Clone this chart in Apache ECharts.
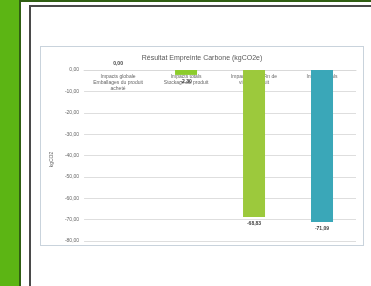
<!DOCTYPE html>
<html>
<head>
<meta charset="utf-8">
<script src="https://cdn.jsdelivr.net/npm/echarts@6/dist/echarts.min.js"></script>
<style>
  html, body { margin: 0; padding: 0; width: 371px; height: 286px; overflow: hidden; background: #fff; }
  .strip { position: absolute; left: 0; top: 0; width: 19px; height: 286px; background: #5cb514; }
  .stripEdge { position: absolute; left: 19px; top: 0; width: 2px; height: 286px; background: #2f5e12; }
  .topLine { position: absolute; left: 19px; top: 0; width: 352px; height: 2px; background: #2f5e12; }
  .box { position: absolute; left: 29px; top: 5px; width: 360px; height: 300px; border: 2px solid #4a4a4a; }
  #chart { position: absolute; left: 40px; top: 46px; width: 322px; height: 198px; border: 1px solid #c9d3dc; background: #fff; }
</style>
</head>
<body>
<div class="strip"></div>
<div class="stripEdge"></div>
<div class="topLine"></div>
<div class="box"></div>
<div id="chart"></div>
<script>
/* ---------- données ---------- */
const categories = [
  "Impacts globale\nEmballages du produit\nacheté",
  "Impacts totals\nStockage du produit",
  "Impacts totals Fin de\nvie du produit",
  "Impacts totals",
];
const values = [0, -2.3, -68.83, -71.09];
const barColors = ["#9bc93a", "#8ccc2c", "#9cc93c", "#3aa7b8"];
const yTicks = { min: -80, max: 0, step: 10 };

/* ---------- rendu ---------- */
const chart = echarts.init(document.getElementById("chart"));
const fmt = (v) => v.toFixed(2).replace(".", ",");

chart.setOption({
  animation: false,
  textStyle: { fontFamily: "Liberation Sans" },
  title: {
    text: "Résultat Empreinte Carbone (kgCO2e)",
    left: "center",
    top: 3,
    textStyle: { fontSize: 7, fontWeight: "normal", color: "#595959" },
  },
  grid: { left: 41, right: 7, top: 23, bottom: 4 },
  xAxis: {
    type: "category",
    position: "top",
    data: categories,
    axisLine: { onZero: false, lineStyle: { color: "#d9d9d9" } },
    axisTick: { show: false },
    axisLabel: { inside: true, fontSize: 5, color: "#666", lineHeight: 6, margin: 4, interval: 0 },
  },
  yAxis: {
    type: "value",
    min: yTicks.min,
    max: yTicks.max,
    interval: yTicks.step,
    name: "kgCO2",
    nameLocation: "middle",
    nameGap: 27,
    nameTextStyle: { fontSize: 5, color: "#666", padding: [0, 8, 0, 0] },
    axisLine: { show: false },
    axisTick: { show: false },
    splitLine: { lineStyle: { color: "#dedede" } },
    axisLabel: { fontSize: 5, color: "#666", margin: 5, formatter: (v) => fmt(v) },
  },
  series: [
    {
      type: "bar",
      barWidth: 22,
      data: values.map((v, i) => ({
        value: v,
        itemStyle: { color: barColors[i] },
        label: {
          show: true,
          position: v >= 0 ? "top" : "bottom",
          distance: 4,
          fontSize: 5,
          fontWeight: "bold",
          color: "#404040",
          formatter: () => fmt(v),
        },
      })),
    },
  ],
});
</script>
</body>
</html>
